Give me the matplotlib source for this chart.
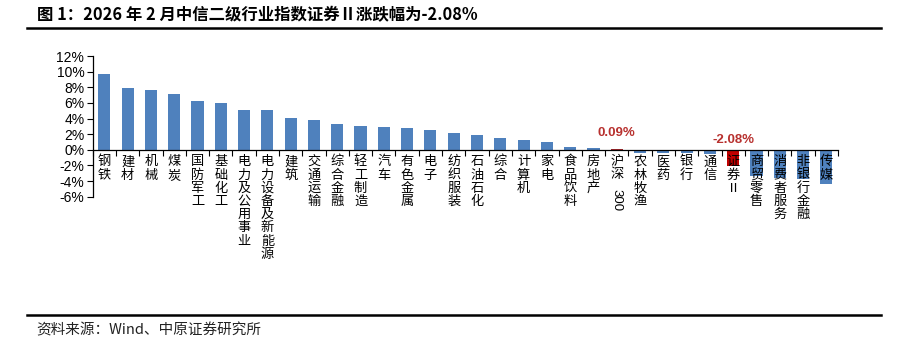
import matplotlib
matplotlib.use("Agg")
import matplotlib.pyplot as plt
from matplotlib.lines import Line2D
import numpy as np

plt.rcParams['font.family'] = ['Noto Sans CJK SC', 'DejaVu Sans']

categories = ["钢铁", "建材", "机械", "煤炭", "国防军工", "基础化工", "电力及公用事业",
              "电力设备及新能源", "建筑", "交通运输", "综合金融", "轻工制造", "汽车",
              "有色金属", "电子", "纺织服装", "石油石化", "综合", "计算机", "家电",
              "食品饮料", "房地产", "沪深300", "农林牧渔", "医药", "银行", "通信",
              "证券Ⅱ", "商贸零售", "消费者服务", "非银行金融", "传媒"]
values = [9.7, 7.9, 7.65, 7.1, 6.2, 6.05, 5.1, 5.05, 4.1, 3.85, 3.25, 3.1, 2.95,
          2.85, 2.5, 2.1, 1.9, 1.45, 1.3, 0.95, 0.4, 0.2, 0.09, -0.35, -0.38, -0.4,
          -0.55, -2.08, -3.4, -3.6, -3.7, -4.4]
highlight = {"沪深300": "#A0262B", "证券Ⅱ": "#C00000"}
annotations = {"沪深300": "0.09%", "证券Ⅱ": "-2.08%"}
yticks = [-6, -4, -2, 0, 2, 4, 6, 8, 10, 12]
title = "图 1：2026 年 2 月中信二级行业指数证券Ⅱ涨跌幅为-2.08%"
source = "资料来源：Wind、中原证券研究所"

W, H = 901, 359
fig = plt.figure(figsize=(W / 100, H / 100), dpi=100)
ax = fig.add_axes([92.7 / W, 1 - 196.7 / H, (838 - 92.7) / W, (196.7 - 56) / H])

x = np.arange(len(categories))
colors = [highlight.get(c, "#4F81BD") for c in categories]
ax.bar(x, values, width=0.52, color=colors, zorder=2)

ax.set_xlim(-0.5, len(categories) - 0.5)
ax.set_ylim(-6, 12)
ax.set_yticks(yticks)
ax.set_yticklabels([f"{t}%" for t in yticks], family="Liberation Sans", fontsize=10)
ax.tick_params(axis='y', direction='out', length=4, width=0.8, pad=2)

for s in ["top", "right"]:
    ax.spines[s].set_visible(False)
ax.spines["bottom"].set_position(("data", 0))
ax.spines["left"].set_linewidth(0.9)
ax.spines["bottom"].set_linewidth(0.9)
ax.set_xticks(np.arange(-0.5, len(categories), 1.0))
ax.set_xticklabels([])
ax.tick_params(axis='x', direction='out', length=4, width=0.8)

# vertical stacked category labels
for i, c in enumerate(categories):
    if c == "沪深300":
        ax.annotate("沪\n深", xy=(i, 0), xytext=(0, -4), textcoords="offset points",
                    ha="center", va="top", fontsize=9.5, linespacing=1.0, zorder=3)
        ax.annotate("300", xy=(i, 0), xytext=(0, -28), textcoords="offset points",
                    ha="center", va="top", fontsize=9.5, rotation=-90,
                    family="Liberation Sans", zorder=3)
    else:
        ax.annotate("\n".join(c), xy=(i, 0), xytext=(0, -4), textcoords="offset points",
                    ha="center", va="top", fontsize=9.5, linespacing=1.02, zorder=3)

for c, txt in annotations.items():
    i = categories.index(c)
    v = values[i]
    yoff = 7 if v > 0 else 3
    ax.annotate(txt, xy=(i, max(v, 0)), xytext=(0, yoff), textcoords="offset points",
                ha="center", va="bottom", fontsize=9.5, color="#B8312F",
                family="Liberation Sans", fontweight="bold", zorder=3)

# title and rules
fig.text(37 / W, 1 - 15 / H, title, ha="left", va="center", fontsize=11.8,
         fontweight="bold", family=["Noto Sans CJK SC", "DejaVu Sans"])
fig.add_artist(Line2D([27 / W, 881 / W], [1 - 28 / H, 1 - 28 / H], color="black", lw=1.8))
fig.add_artist(Line2D([27 / W, 881 / W], [1 - 315 / H, 1 - 315 / H], color="black", lw=1.8))
fig.text(36 / W, 1 - 330 / H, source, ha="left", va="center", fontsize=10.5, color="#222222")

fig.savefig("out.png", dpi=100)
